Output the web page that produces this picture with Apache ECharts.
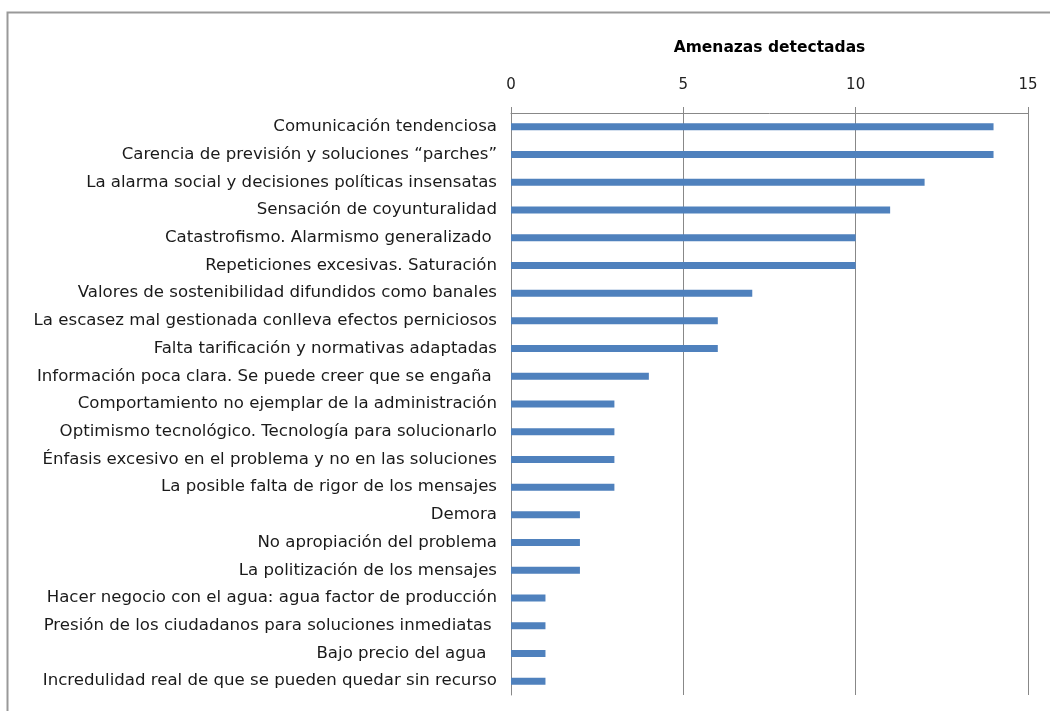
<!DOCTYPE html>
<html>
<head>
<meta charset="utf-8">
<script src="https://cdn.jsdelivr.net/npm/echarts@6/dist/echarts.min.js"></script>
<style>
  html, body { margin: 0; padding: 0; background: #fff; }
  #chart { width: 1050px; height: 711px; }
</style>
</head>
<body>
<div id="chart"></div>
<script>
// Threat categories, listed top to bottom
const categories = [
  'Comunicación tendenciosa',
  'Carencia de previsión y soluciones “parches”',
  'La alarma social y decisiones políticas insensatas',
  'Sensación de coyunturalidad',
  'Catastrofismo. Alarmismo generalizado ',
  'Repeticiones excesivas. Saturación',
  'Valores de sostenibilidad difundidos como banales',
  'La escasez mal gestionada conlleva efectos perniciosos',
  'Falta tarificación y normativas adaptadas',
  'Información poca clara. Se puede creer que se engaña ',
  'Comportamiento no ejemplar de la administración',
  'Optimismo tecnológico. Tecnología para solucionarlo',
  'Énfasis excesivo en el problema y no en las soluciones',
  'La posible falta de rigor de los mensajes',
  'Demora',
  'No apropiación del problema',
  'La politización de los mensajes',
  'Hacer negocio con el agua: agua factor de producción',
  'Presión de los ciudadanos para soluciones inmediatas ',
  'Bajo precio del agua  ',
  'Incredulidad real de que se pueden quedar sin recurso'
];

// Number of detected threats per category
const amenazas = [14, 14, 12, 11, 10, 10, 7, 6, 6, 4, 3, 3, 3, 3, 2, 2, 2, 1, 1, 1, 1];

const axisTitle = 'Amenazas detectadas';

const FONT = '"DejaVu Sans", "Noto Sans", sans-serif';

const chart = echarts.init(document.getElementById('chart'), null, { renderer: 'canvas' });

chart.setOption({
  backgroundColor: '#ffffff',
  animation: false,
  graphic: [{
    type: 'rect',
    shape: { x: 7.5, y: 12.5, width: 1100, height: 800 },
    style: { fill: 'none', stroke: '#999999', lineWidth: 2 },
    silent: true
  }],
  grid: { left: 511, right: 22, top: 113, bottom: 16, containLabel: false },
  xAxis: {
    type: 'value',
    position: 'top',
    min: 0,
    max: 15,
    interval: 5,
    name: axisTitle,
    nameLocation: 'middle',
    nameGap: 57,
    nameTextStyle: { fontFamily: FONT, fontSize: 15.5, fontWeight: 'bold', color: '#000' },
    axisLine: { show: true, lineStyle: { color: '#888888', width: 1 } },
    axisTick: { show: true, length: 6, lineStyle: { color: '#888888' } },
    axisLabel: { fontFamily: FONT, fontSize: 15, color: '#222', margin: 20 },
    splitLine: { show: true, lineStyle: { color: '#888888', width: 1 } }
  },
  yAxis: {
    type: 'category',
    data: categories,
    inverse: true,
    axisLine: { show: true, lineStyle: { color: '#888888', width: 1 } },
    axisTick: { show: false },
    axisLabel: { fontFamily: FONT, fontSize: 16.6, color: '#1a1a1a', margin: 14 }
  },
  series: [{
    type: 'bar',
    data: amenazas,
    barWidth: 7,
    itemStyle: { color: '#4F81BD' }
  }]
});
</script>
</body>
</html>
